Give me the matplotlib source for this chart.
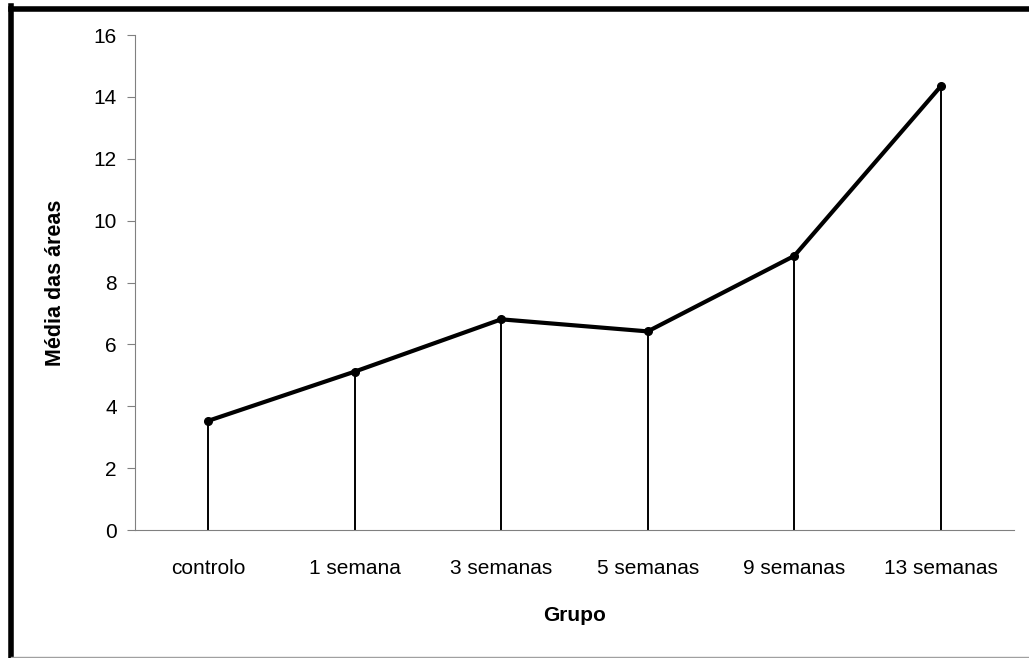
import matplotlib
matplotlib.use('Agg')
import matplotlib.pyplot as plt
from matplotlib import font_manager
from matplotlib.lines import Line2D

# data
grupos = ['controlo', '1 semana', '3 semanas', '5 semanas', '9 semanas', '13 semanas']
medias = [3.53, 5.12, 6.81, 6.42, 8.86, 14.34]

names = {f.name for f in font_manager.fontManager.ttflist}
fam = 'Liberation Sans Narrow' if 'Liberation Sans Narrow' in names else 'Liberation Sans'
plt.rcParams['font.family'] = [fam, 'DejaVu Sans']

fig = plt.figure(figsize=(10.29, 6.58), dpi=100)
ax = fig.add_axes([0.1312, 0.1945, 0.8542, 0.7523])

x = list(range(len(grupos)))
ax.vlines(x, 0, medias, colors='black', linewidth=1.4)
ax.plot(x, medias, color='black', linewidth=3, marker='o', markersize=5.5)

ax.set_xlim(-0.5, len(grupos) - 0.5)
ax.set_ylim(0, 16)
ax.set_yticks(range(0, 17, 2))
ax.set_xticks(x)
ax.set_xticklabels(grupos)

for s in ['top', 'right']:
    ax.spines[s].set_visible(False)
ax.spines['left'].set_color('#808080')
ax.spines['bottom'].set_color('#808080')
ax.tick_params(axis='y', direction='out', length=6, color='#808080', labelsize=15, pad=7)
ax.tick_params(axis='x', length=0, labelsize=15, pad=21)

ax.set_ylabel('Média das áreas', fontsize=15.5, fontweight='bold', labelpad=20)
ax.set_xlabel('Grupo', fontsize=15, fontweight='bold', labelpad=20)

# frame around the picture
W, H = 1029, 658
fig.add_artist(Line2D([10.5 / W, 10.5 / W], [0, 1 - 6 / H], color='black', linewidth=4, solid_capstyle='projecting'))
fig.add_artist(Line2D([10.5 / W, 1], [1 - 8.5 / H, 1 - 8.5 / H], color='black', linewidth=4, solid_capstyle='projecting'))
fig.add_artist(Line2D([10.5 / W, 1], [1.5 / H, 1.5 / H], color='#a0a0a0', linewidth=1))

fig.savefig('out.png', dpi=100)
